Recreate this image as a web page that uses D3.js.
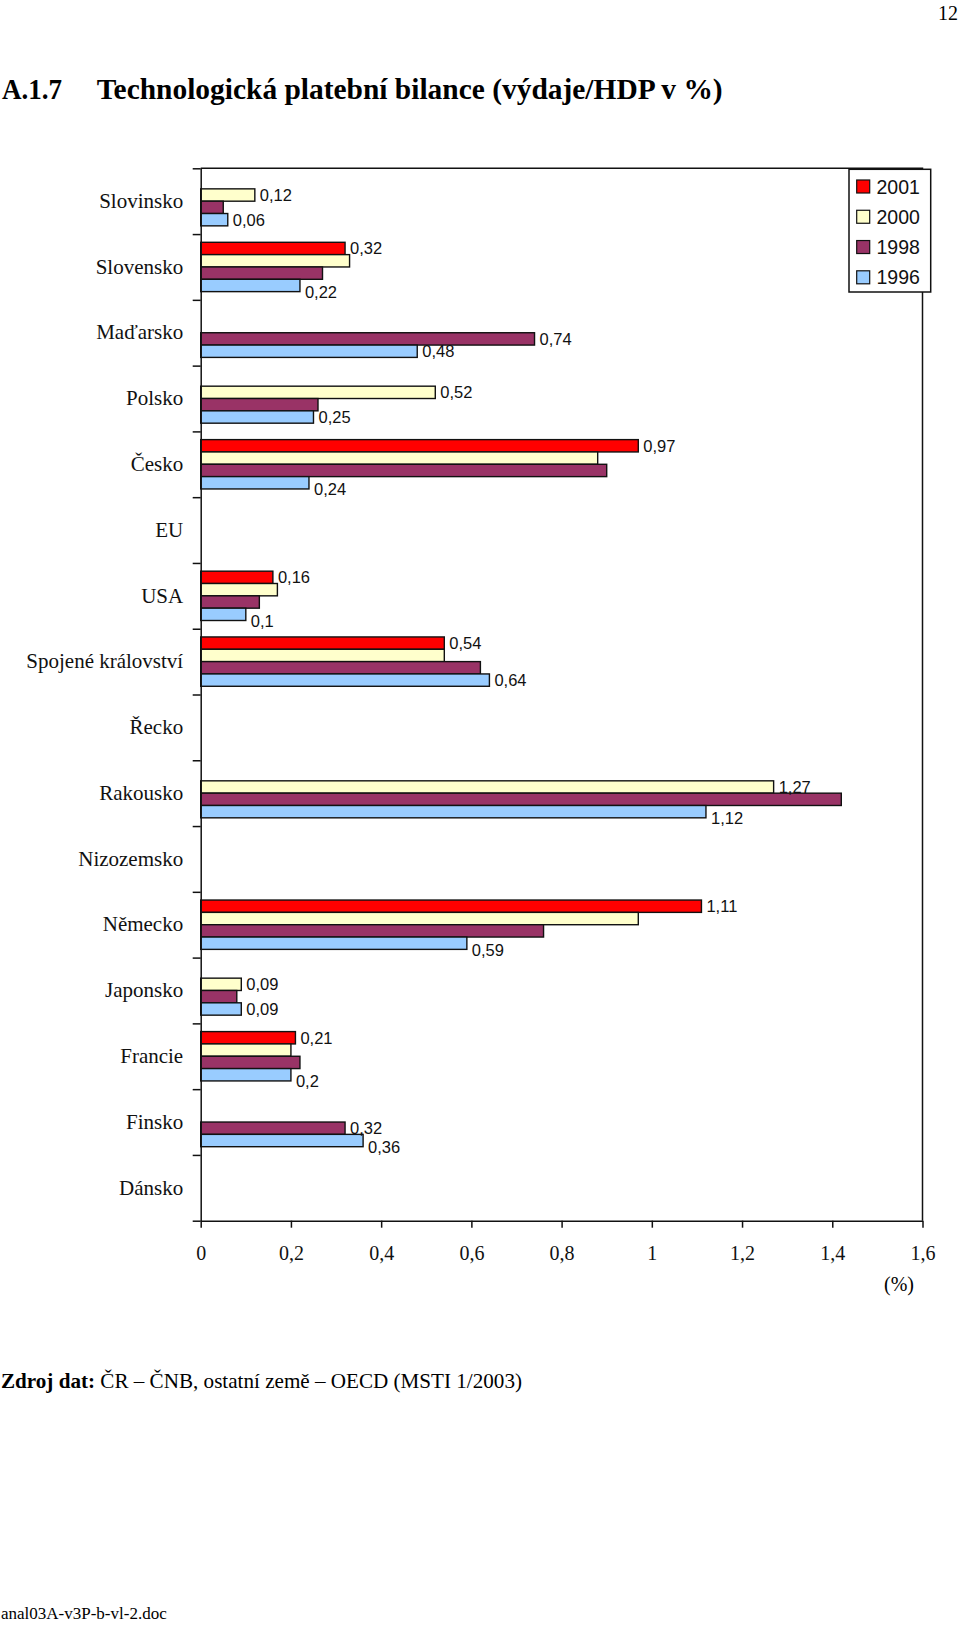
<!DOCTYPE html>
<html>
<head>
<meta charset="utf-8">
<script src="https://cdn.jsdelivr.net/npm/d3@7"></script>
<style>
  html, body { margin: 0; padding: 0; background: #fff; }
  svg { display: block; }
</style>
</head>
<body>
<script>
// ---------- data ----------
const categories = ["Slovinsko","Slovensko","Maďarsko","Polsko","Česko","EU","USA",
  "Spojené království","Řecko","Rakousko","Nizozemsko","Německo","Japonsko","Francie","Finsko","Dánsko"];
const seriesNames = ["2001","2000","1998","1996"];
const values2001 = [null,0.32,null,null,0.97,null,0.16,0.54,null,null,null,1.11,null,0.21,null,null];
const values2000 = [0.12,0.33,null,0.52,0.88,null,0.17,0.54,null,1.27,null,0.97,0.09,0.20,null,null];
const values1998 = [0.05,0.27,0.74,0.26,0.90,null,0.13,0.62,null,1.42,null,0.76,0.08,0.22,0.32,null];
const values1996 = [0.06,0.22,0.48,0.25,0.24,null,0.10,0.64,null,1.12,null,0.59,0.09,0.20,0.36,null];
const xTickValues = [0,0.2,0.4,0.6,0.8,1,1.2,1.4,1.6];
const xTickLabels = ["0","0,2","0,4","0,6","0,8","1","1,2","1,4","1,6"];
const seriesColors = ["#FF0000","#FFFFCC","#993366","#99CCFF"];

const seriesValues = [values2001, values2000, values1998, values1996];

// ---------- layout ----------
const W = 960, H = 1627;
const plot = { left: 200.7, right: 922.5, top: 168.3, bottom: 1220.7 };
const serif = "'Liberation Serif','Times New Roman',serif";
const sans = "'Liberation Sans',Arial,sans-serif";

const svg = d3.select("body").append("svg").attr("width", W).attr("height", H);

// page number
svg.append("text").attr("x", 958).attr("y", 20).attr("text-anchor", "end")
  .attr("font-family", serif).attr("font-size", 20).text("12");

// title
svg.append("text").attr("x", 2).attr("y", 99)
  .attr("font-family", serif).attr("font-weight", "bold").attr("font-size", 29)
  .attr("textLength", 60).attr("lengthAdjust", "spacingAndGlyphs").text("A.1.7");
svg.append("text").attr("x", 96.7).attr("y", 99)
  .attr("font-family", serif).attr("font-weight", "bold").attr("font-size", 29)
  .attr("textLength", 626).attr("lengthAdjust", "spacingAndGlyphs")
  .text("Technologická platební bilance (výdaje/HDP v %)");

// scales
const x = d3.scaleLinear().domain([0, 1.6]).range([plot.left, plot.right]);
const y = d3.scaleBand().domain(categories).range([plot.top, plot.bottom]).padding(0);
const bw = y.bandwidth();
const ySub = d3.scaleBand().domain(seriesNames).range([bw * 0.125, bw * 0.875]).padding(0);

// plot frame (top + right)
svg.append("path")
  .attr("d", `M${plot.left},${plot.top}H${plot.right}V${plot.bottom}`)
  .attr("fill", "none").attr("stroke", "#111").attr("stroke-width", 1.5);

// bars
const barData = [];
categories.forEach((c, i) => {
  seriesNames.forEach((s, j) => {
    const v = seriesValues[j][i];
    if (v != null) barData.push({ cat: c, ser: s, idx: j, value: v, ci: i });
  });
});

svg.append("g").selectAll("rect").data(barData).join("rect")
  .attr("x", plot.left)
  .attr("y", d => y(d.cat) + ySub(d.ser))
  .attr("width", d => x(d.value) - x(0))
  .attr("height", ySub.bandwidth())
  .attr("fill", d => seriesColors[d.idx])
  .attr("stroke", "#111").attr("stroke-width", 1.4);

// data labels: first present series and last series (1996) of each group
const fmt = v => String(+v.toFixed(2)).replace(".", ",");
const labelData = [];
categories.forEach((c, i) => {
  const present = seriesNames.map((s, j) => ({ s, j, v: seriesValues[j][i] })).filter(d => d.v != null);
  if (!present.length) return;
  const first = present[0], last = present[present.length - 1];
  const chosen = first === last ? [first] : [first, last];
  chosen.forEach((d, k) => {
    let shift = 0;
    if (k === 1) {
      // nudge bottom label down if the bar (or its label) directly above reaches over its start
      const prev = present[present.length - 2];
      const labelStart = x(d.v) + 5;
      let reach = x(prev.v);
      if (prev === first && present.length > 2) reach = x(prev.v) + 5 + fmt(prev.v).length * 8;
      if (prev === first && present.length === 2) reach = x(prev.v) + 5 + fmt(prev.v).length * 8 - (x(prev.v) - x(d.v) > 100 ? 1000 : 0);
      if (reach > labelStart) shift = 6.5;
    }
    labelData.push({ cat: c, ser: d.s, value: d.v, shift });
  });
});

svg.append("g").selectAll("text").data(labelData).join("text")
  .attr("x", d => x(d.value) + 5)
  .attr("y", d => y(d.cat) + ySub(d.ser) + ySub.bandwidth() / 2 + d.shift)
  .attr("dy", "0.36em")
  .attr("font-family", sans).attr("font-size", 16.5).attr("fill", "#111")
  .text(d => fmt(d.value));

// y axis: category labels
const yAxis = svg.append("g").attr("transform", `translate(${plot.left},0)`)
  .call(d3.axisLeft(y).tickSize(0).tickPadding(17.5));
yAxis.select(".domain").remove();
yAxis.selectAll("text").attr("font-family", serif).attr("font-size", 21).attr("fill", "#111");

// y axis: line and boundary ticks
const yBound = d3.scaleLinear().domain([0, categories.length]).range([plot.top, plot.bottom]);
const yTicks = svg.append("g").attr("transform", `translate(${plot.left},0)`)
  .call(d3.axisLeft(yBound).tickValues(d3.range(0, categories.length + 1)).tickFormat("").tickSize(8).tickSizeOuter(0));
yTicks.select(".domain").attr("stroke", "#111").attr("stroke-width", 1.5);
yTicks.selectAll(".tick line").attr("stroke", "#111").attr("stroke-width", 1.5);

// x axis
const xAxis = svg.append("g").attr("transform", `translate(0,${plot.bottom})`)
  .call(d3.axisBottom(x).tickValues(xTickValues).tickFormat((d, i) => xTickLabels[i])
    .tickSize(7).tickSizeOuter(0).tickPadding(18));
xAxis.select(".domain").attr("stroke", "#111").attr("stroke-width", 1.5);
xAxis.selectAll(".tick line").attr("stroke", "#111").attr("stroke-width", 1.5);
xAxis.selectAll("text").attr("font-family", serif).attr("font-size", 20).attr("fill", "#111");

// unit label
svg.append("text").attr("x", 914).attr("y", 1291).attr("text-anchor", "end")
  .attr("font-family", serif).attr("font-size", 20).text("(%)");

// legend
const lg = svg.append("g");
lg.append("rect").attr("x", 849).attr("y", 169.3).attr("width", 81.7).attr("height", 122.7)
  .attr("fill", "#fff").attr("stroke", "#111").attr("stroke-width", 1.5);
const legendY = d3.scalePoint().domain(seriesNames).range([186.5, 277.3]);
seriesNames.forEach((s, j) => {
  lg.append("rect").attr("x", 856.7).attr("y", legendY(s) - 6.5).attr("width", 13).attr("height", 13)
    .attr("fill", seriesColors[j]).attr("stroke", "#111").attr("stroke-width", 1.2);
  lg.append("text").attr("x", 876.5).attr("y", legendY(s)).attr("dy", "0.36em")
    .attr("font-family", sans).attr("font-size", 19.5).attr("fill", "#111").text(s);
});

// source footer
const foot = svg.append("text").attr("x", 1).attr("y", 1388)
  .attr("font-family", serif).attr("font-size", 22).attr("fill", "#000")
  .attr("textLength", 521).attr("lengthAdjust", "spacingAndGlyphs");
foot.append("tspan").attr("font-weight", "bold").text("Zdroj dat: ");
foot.append("tspan").text("ČR – ČNB, ostatní země – OECD (MSTI 1/2003)");

// file name
svg.append("text").attr("x", 1).attr("y", 1619)
  .attr("font-family", serif).attr("font-size", 17).text("anal03A-v3P-b-vl-2.doc");
</script>
</body>
</html>
